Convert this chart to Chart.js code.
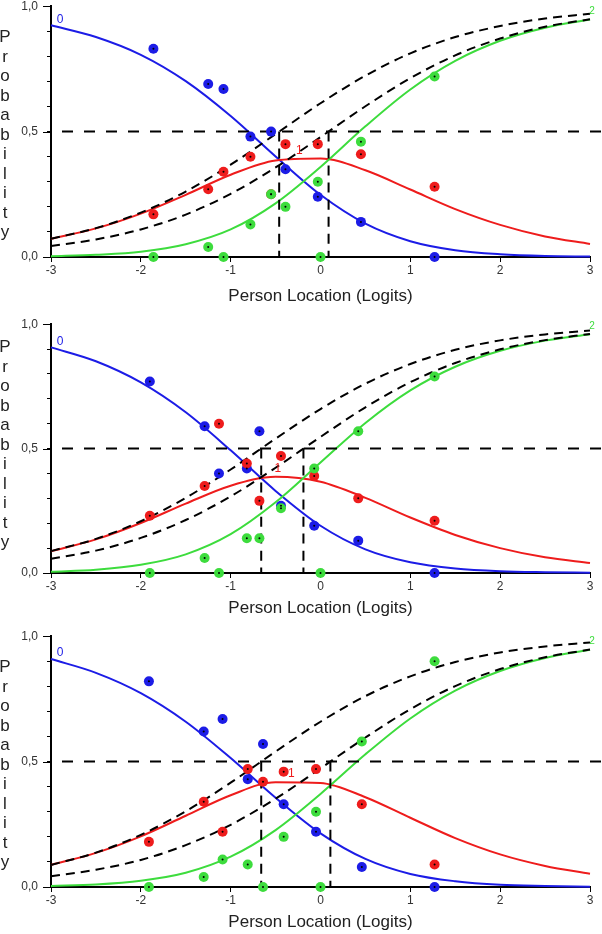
<!DOCTYPE html>
<html>
<head>
<meta charset="utf-8">
<script src="https://cdn.jsdelivr.net/npm/chart.js@4.4.1/dist/chart.umd.min.js"></script>
<style>
  html, body { margin: 0; padding: 0; background: #fff; overflow: hidden; }
  canvas { position: absolute; left: 0; }
</style>
</head>
<body>
<canvas id="item1" width="602" height="317" style="top:-10px"></canvas>
<canvas id="item2" width="602" height="315" style="top:308px"></canvas>
<canvas id="item3" width="602" height="317" style="top:620px"></canvas>
<script>
// x grid the curves were read at
const logits = [-3, -2.5, -2, -1.5, -1, -0.5, 0, 0.5, 1, 1.5, 2, 2.5, 3];
const yTickLabels = ['0,0', '0,5', '1,0'];
const yMajor = [0, 0.5, 1];
const axisTitle = 'Person Location (Logits)';
const yTitle = 'Probability';

// item 1
const i1Cat0 = [0.924, 0.877, 0.806, 0.701, 0.562, 0.401, 0.248, 0.133, 0.063, 0.027, 0.011, 0.004, 0.002];
const i1Cat1 = [0.073, 0.114, 0.173, 0.248, 0.328, 0.385, 0.393, 0.346, 0.269, 0.191, 0.128, 0.082, 0.052];
const i1Cat2 = [0.003, 0.009, 0.021, 0.051, 0.110, 0.214, 0.359, 0.521, 0.668, 0.782, 0.862, 0.914, 0.947];
const i1Thr1 = [0.073, 0.115, 0.177, 0.261, 0.368, 0.490, 0.613, 0.723, 0.812, 0.877, 0.921, 0.951, 0.970];
const i1Thr2 = [0.044, 0.070, 0.110, 0.169, 0.252, 0.357, 0.478, 0.601, 0.713, 0.804, 0.871, 0.918, 0.948];
const i1Cuts = [-0.46, 0.09];
const i1ClassX = [-1.86, -1.25, -1.08, -0.78, -0.55, -0.39, -0.03, 0.45, 1.27];
const i1Obs0 = [0.83, 0.69, 0.67, 0.48, 0.50, 0.35, 0.24, 0.14, 0.00];
const i1Obs1 = [0.17, 0.27, 0.34, 0.40, 0.25, 0.45, 0.45, 0.41, 0.28];
const i1Obs2X = [-1.86, -1.25, -1.08, -0.78, -0.55, -0.39, -0.03, 0.00, 0.45, 1.27];
const i1Obs2 = [0.00, 0.04, 0.00, 0.13, 0.25, 0.20, 0.30, 0.00, 0.46, 0.72];

// item 2
const i2Cat0 = [0.907, 0.851, 0.766, 0.646, 0.493, 0.330, 0.190, 0.095, 0.043, 0.018, 0.007, 0.003, 0.001];
const i2Cat1 = [0.087, 0.135, 0.201, 0.279, 0.351, 0.387, 0.367, 0.302, 0.223, 0.153, 0.100, 0.063, 0.040];
const i2Cat2 = [0.005, 0.013, 0.033, 0.075, 0.156, 0.284, 0.444, 0.603, 0.734, 0.829, 0.893, 0.934, 0.960];
const i2Thr1 = [0.088, 0.137, 0.208, 0.302, 0.416, 0.540, 0.659, 0.761, 0.840, 0.897, 0.935, 0.959, 0.975];
const i2Thr2 = [0.057, 0.090, 0.141, 0.213, 0.308, 0.423, 0.547, 0.666, 0.767, 0.844, 0.899, 0.936, 0.961];
const i2Cuts = [-0.66, -0.19];
const i2ClassX = [-1.90, -1.29, -1.13, -0.82, -0.68, -0.44, -0.07, 0.42, 1.27];
const i2Obs0 = [0.77, 0.59, 0.40, 0.42, 0.57, 0.27, 0.19, 0.13, 0.00];
const i2Obs1 = [0.23, 0.35, 0.60, 0.44, 0.29, 0.47, 0.39, 0.30, 0.21];
const i2Obs2X = [-1.90, -1.29, -1.13, -0.82, -0.68, -0.44, -0.07, 0.00, 0.42, 1.27];
const i2Obs2 = [0.00, 0.06, 0.00, 0.14, 0.14, 0.26, 0.42, 0.00, 0.57, 0.79];

// item 3
const i3Cat0 = [0.909, 0.854, 0.773, 0.659, 0.514, 0.356, 0.214, 0.112, 0.052, 0.023, 0.009, 0.004, 0.001];
const i3Cat1 = [0.088, 0.136, 0.202, 0.284, 0.366, 0.418, 0.415, 0.358, 0.276, 0.195, 0.130, 0.084, 0.053];
const i3Cat2 = [0.004, 0.010, 0.025, 0.057, 0.121, 0.227, 0.371, 0.529, 0.672, 0.783, 0.861, 0.913, 0.946];
const i3Thr1 = [0.088, 0.137, 0.208, 0.302, 0.416, 0.540, 0.659, 0.761, 0.840, 0.897, 0.935, 0.959, 0.975];
const i3Thr2 = [0.043, 0.069, 0.108, 0.167, 0.248, 0.352, 0.473, 0.596, 0.709, 0.801, 0.869, 0.916, 0.947];
const i3Cuts = [-0.66, 0.11];
const i3ClassX = [-1.91, -1.30, -1.09, -0.81, -0.64, -0.41, -0.05, 0.46, 1.27];
const i3Obs0 = [0.82, 0.62, 0.67, 0.43, 0.57, 0.33, 0.22, 0.08, 0.00];
const i3Obs1 = [0.18, 0.34, 0.22, 0.47, 0.42, 0.46, 0.47, 0.33, 0.09];
const i3Obs2X = [-1.91, -1.30, -1.09, -0.81, -0.64, -0.41, -0.05, 0.00, 0.46, 1.27];
const i3Obs2 = [0.00, 0.04, 0.11, 0.09, 0.00, 0.20, 0.30, 0.00, 0.58, 0.90];

const BLUE = '#1c1ce6';
const RED = '#ee1c1c';
const GREEN = '#3ddc3d';
const FONT = '"Liberation Sans", Arial, sans-serif';

Chart.defaults.font.family = FONT;

function pts(xs, ys) {
  return xs.map((x, i) => ({ x: x, y: ys[i] }));
}

function makePanel(id, item) {
  const curve = (ys, color) => ({
    data: pts(logits, ys), borderColor: color, borderWidth: 2, pointRadius: 0,
    cubicInterpolationMode: 'monotone', clip: false
  });
  const dashed = (data, dash, offset) => ({
    data: data, borderColor: '#000', borderWidth: 2, pointRadius: 0,
    borderDash: dash, borderDashOffset: offset || 0, cubicInterpolationMode: 'monotone', clip: false
  });
  const dots = (xs, ys, color, r) => ({
    data: pts(xs, ys), showLine: false, pointRadius: r, pointHoverRadius: r,
    pointBackgroundColor: color, pointBorderWidth: 0, clip: false
  });

  const datasets = [
    dots(item.classX, item.obs0, '#000', 1),
    dots(item.classX, item.obs1, '#000', 1),
    dots(item.obs2X, item.obs2, '#000', 1),
    dots(item.obs2X, item.obs2, GREEN, 5),
    dots(item.classX, item.obs1, RED, 5),
    dots(item.classX, item.obs0, BLUE, 5),
    dashed(pts(logits, item.thr1), [9, 6]),
    dashed(pts(logits, item.thr2), [9, 6]),
    dashed([{ x: item.cuts[0], y: 0.5 }, { x: item.cuts[0], y: 0 }], [10, 7]),
    dashed([{ x: item.cuts[1], y: 0.5 }, { x: item.cuts[1], y: 0 }], [10, 7]),
    dashed([{ x: -3, y: 0.5 }, { x: 3.14, y: 0.5 }], [11, 11], 11),
    curve(item.cat2, GREEN),
    curve(item.cat1, RED),
    curve(item.cat0, BLUE)
  ];

  const textPlugin = {
    id: 'panelText',
    afterDatasetsDraw(chart) {
      const { ctx, chartArea, scales } = chart;
      ctx.save();
      // longer ticks at the labelled values
      ctx.strokeStyle = '#000';
      ctx.lineWidth = 1;
      yMajor.forEach(v => {
        const py = Math.round(scales.y.getPixelForValue(v)) + 0.5;
        ctx.beginPath();
        ctx.moveTo(chartArea.left - 8, py);
        ctx.lineTo(chartArea.left, py);
        ctx.stroke();
      });
      ctx.textAlign = 'center';
      ctx.fillStyle = '#222';
      ctx.font = '17px ' + FONT;
      ctx.textBaseline = 'alphabetic';
      yTitle.split('').forEach((ch, i) => {
        ctx.fillText(ch, 5, chartArea.top + item.letterTop + i * 19.5);
      });
      ctx.textBaseline = 'middle';
      ctx.font = '12px ' + FONT;
      ctx.fillStyle = BLUE;
      ctx.fillText('0', scales.x.getPixelForValue(logits[0]) + 9, scales.y.getPixelForValue(item.cat0[0]) - 6);
      ctx.fillStyle = RED;
      ctx.fillText('1', scales.x.getPixelForValue((item.cuts[0] + item.cuts[1]) / 2 - 0.05),
        scales.y.getPixelForValue(Math.max(...item.cat1)) - 8);
      ctx.fillStyle = GREEN;
      ctx.font = '10px ' + FONT;
      ctx.fillText('2', scales.x.getPixelForValue(logits[logits.length - 1]) + 2,
        scales.y.getPixelForValue(item.cat2[item.cat2.length - 1]) - 8);
      ctx.restore();
    }
  };

  return new Chart(document.getElementById(id), {
    type: 'line',
    data: { datasets: datasets },
    options: {
      responsive: false,
      animation: false,
      events: [],
      layout: { padding: { top: 16, left: 0, right: 12, bottom: 0 } },
      plugins: { legend: { display: false }, tooltip: { enabled: false } },
      scales: {
        x: {
          type: 'linear', min: -3, max: 3,
          afterFit: s => { s.height = 50; },
          ticks: { stepSize: 1, padding: 1, color: '#333', maxRotation: 0, font: { size: 12 },
            callback: v => String(v) },
          grid: { drawOnChartArea: false, color: '#000', tickLength: 5 },
          border: { color: '#000', width: 2 },
          title: { display: true, text: axisTitle, color: '#222',
            font: { size: 17, lineHeight: 1 }, padding: { top: 0, bottom: item.titlePad } }
        },
        y: {
          type: 'linear', min: 0, max: 1,
          afterFit: s => { s.width = 51; },
          ticks: { stepSize: 0.1, autoSkip: false, padding: 9, color: '#333', font: { size: 12 },
            callback: v => {
              const k = Math.round(v * 10);
              return k === 0 ? yTickLabels[0] : k === 5 ? yTickLabels[1] : k === 10 ? yTickLabels[2] : '';
            } },
          grid: { drawOnChartArea: false, color: '#000', tickLength: 4 },
          border: { color: '#000', width: 2 }
        }
      }
    },
    plugins: [textPlugin]
  });
}

makePanel('item1', {
  cat0: i1Cat0, cat1: i1Cat1, cat2: i1Cat2, thr1: i1Thr1, thr2: i1Thr2, cuts: i1Cuts,
  classX: i1ClassX, obs0: i1Obs0, obs1: i1Obs1, obs2X: i1Obs2X, obs2: i1Obs2,
  titlePad: 2, letterTop: 36
});
makePanel('item2', {
  cat0: i2Cat0, cat1: i2Cat1, cat2: i2Cat2, thr1: i2Thr1, thr2: i2Thr2, cuts: i2Cuts,
  classX: i2ClassX, obs0: i2Obs0, obs1: i2Obs1, obs2X: i2Obs2X, obs2: i2Obs2,
  titlePad: 6.5, letterTop: 28
});
makePanel('item3', {
  cat0: i3Cat0, cat1: i3Cat1, cat2: i3Cat2, thr1: i3Thr1, thr2: i3Thr2, cuts: i3Cuts,
  classX: i3ClassX, obs0: i3Obs0, obs1: i3Obs1, obs2X: i3Obs2X, obs2: i3Obs2,
  titlePad: 6.5, letterTop: 36
});
</script>
</body>
</html>
